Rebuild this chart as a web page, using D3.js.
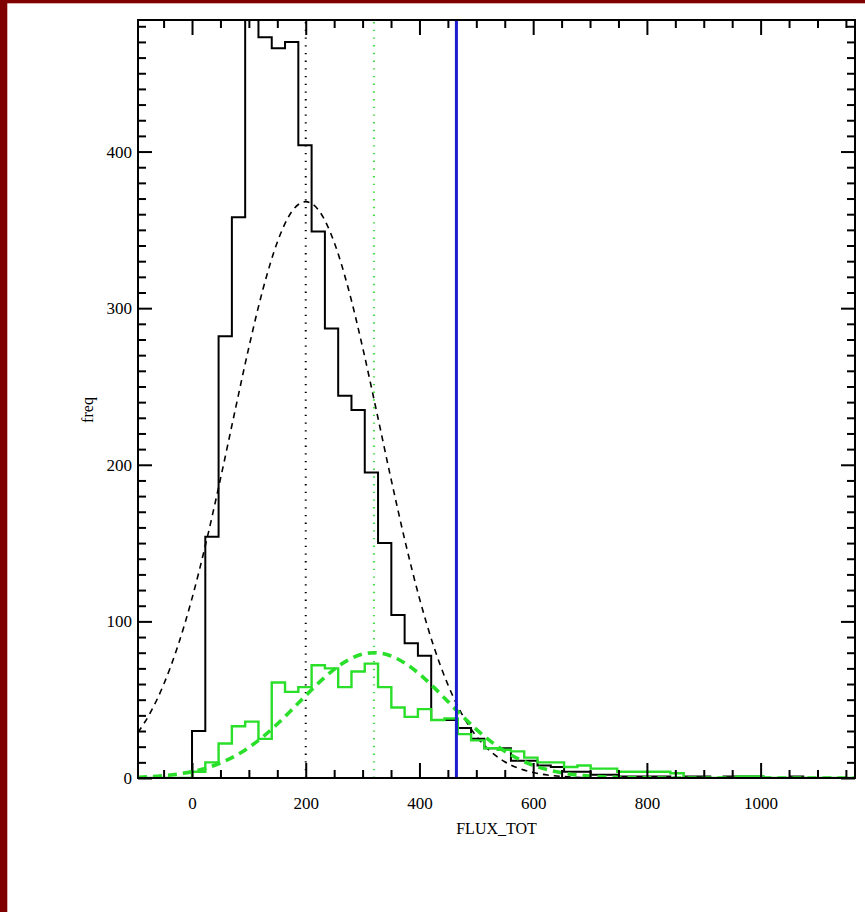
<!DOCTYPE html>
<html><head><meta charset="utf-8">
<script src="https://cdn.jsdelivr.net/npm/d3@7"></script>
<style>html,body{margin:0;padding:0;background:#fff;} svg{display:block}</style>
</head><body>
<svg id="chart" width="865" height="912"></svg>
<script>
// ---- data ----
const binStart = -93.48;      // left edge of the first histogram bin (FLUX_TOT units)
const binWidth = 23.37;
const allCounts = [0,0,0,0,
  30,154,282,358,484,473,466,470,404,349,287,244,235,195,150,104,86,78,37,37,
  32,25,19,19,11,11,8,7,4,4,2,2,1,1,1,1,0,1,1,0,1,1,1,0,0,1,0,0,0,0];
const selCounts = [0,0,0,0,
  4,10,22,33,36,25,61,55,58,72,70,58,68,73,58,45,39,44,37,38,
  28,24,19,18,17,13,10,10,7,8,6,6,4,4,4,4,3,0,0,0,0,1,1,0,0,0,0,0,0,0];
const allFitX = [-95,-75,-50,-25,0,25,50,75,100,125,150,175,200,225,250,275,300,325,350,375,400,425,450,475,500,525,550,575,600,625,650,675,700,750,850,1000,1166];
const allFitY = [29.1,40.6,59.6,84.2,114.7,150.8,191.0,233.4,275.0,312.4,342.1,361.4,368,361.4,342.1,312.4,275.0,233.4,191.0,150.8,114.7,84.2,59.6,40.6,26.7,17.0,10.4,6.1,3.5,1.9,1.0,0.5,0.2,0,0,0,0];
const selFitX = [-95,-75,-50,-25,0,25,50,75,100,125,150,175,200,225,250,275,300,320,350,375,400,425,450,475,500,525,550,575,600,625,650,675,700,750,800,900,1166];
const selFitY = [0.5,0.8,1.5,2.5,4.1,6.3,9.6,13.9,19.5,26.4,34.5,43.4,52.6,61.5,69.4,75.4,79.1,80,77.9,73.2,66.4,58.0,48.9,39.7,31.1,23.5,17.1,12.0,8.1,5.3,3.4,2.0,1.2,0.4,0.1,0,0];
const allMean = 200;
const selMean = 320;
const cutValue = 465;
const xDomain = [-95, 1166];
const yDomain = [0, 484];
const xMajorTicks = [0,200,400,600,800,1000];
const xMinorTicks = [-50,50,100,150,250,300,350,450,500,550,650,700,750,850,900,950,1050,1100,1150];
const yMajorTicks = [0,100,200,300,400];
const xTitle = "FLUX_TOT";
const yTitle = "freq";

// ---- layout ----
const W = 865, H = 912;
const L = 138, R = 855, T = 20, B = 778;
const svg = d3.select("#chart");
const FONT = "'Liberation Serif','DejaVu Serif',serif";
const GREEN = "#2adf2a";

svg.append("rect").attr("x",0).attr("y",0).attr("width",W).attr("height",H).attr("fill","#fff");
svg.append("rect").attr("x",0).attr("y",0).attr("width",W).attr("height",3.3).attr("fill","#800000");
svg.append("rect").attr("x",0).attr("y",0).attr("width",7.3).attr("height",H).attr("fill","#800000");

const x = d3.scaleLinear().domain(xDomain).range([L, R]);
const y = d3.scaleLinear().domain(yDomain).range([B, T]);

svg.append("clipPath").attr("id","plotclip").append("rect")
  .attr("x",L).attr("y",T).attr("width",R-L).attr("height",B-T);
const plot = svg.append("g").attr("clip-path","url(#plotclip)");

function stepPts(counts){
  const pts = [[binStart, 0]];
  counts.forEach((c,i)=>pts.push([binStart + i*binWidth, c]));
  pts.push([binStart + counts.length*binWidth, counts[counts.length-1]]);
  return pts;
}
const stepLine = d3.line().x(d=>x(d[0])).y(d=>y(d[1])).curve(d3.curveStepAfter);
const smoothLine = d3.line().x(d=>x(d[0])).y(d=>y(d[1])).curve(d3.curveMonotoneX);

// black histogram
plot.append("path").attr("d", stepLine(stepPts(allCounts)))
  .attr("fill","none").attr("stroke","#000").attr("stroke-width",2);
// black dashed fit
plot.append("path").attr("d", smoothLine(d3.zip(allFitX, allFitY)))
  .attr("fill","none").attr("stroke","#000").attr("stroke-width",1.6).attr("stroke-dasharray","6,5");
// black dotted mean
plot.append("line").attr("x1",x(allMean)).attr("x2",x(allMean)).attr("y1",y(yDomain[0])).attr("y2",y(yDomain[1]))
  .attr("stroke","#000").attr("stroke-width",2).attr("stroke-dasharray","1.3,6.4");
// green histogram
plot.append("path").attr("d", stepLine(stepPts(selCounts)))
  .attr("fill","none").attr("stroke",GREEN).attr("stroke-width",2.4);
// green dashed fit
plot.append("path").attr("d", smoothLine(d3.zip(selFitX, selFitY)))
  .attr("fill","none").attr("stroke",GREEN).attr("stroke-width",3.6).attr("stroke-dasharray","9,6");
// green dotted mean
plot.append("line").attr("x1",x(selMean)).attr("x2",x(selMean)).attr("y1",y(yDomain[0])).attr("y2",y(yDomain[1]))
  .attr("stroke","#4fd84f").attr("stroke-width",2.2).attr("stroke-dasharray","1.4,6.3");
// blue cut line
plot.append("line").attr("x1",x(cutValue)).attr("x2",x(cutValue)).attr("y1",y(yDomain[0])).attr("y2",y(yDomain[1]))
  .attr("stroke","#1c1cd0").attr("stroke-width",3);

// ---- axes ----
function styleAxis(g){
  g.select(".domain").remove();
  g.selectAll(".tick line").attr("stroke","#000").attr("stroke-width",2);
  g.selectAll(".tick text").attr("fill","#000");
  g.attr("font-family", FONT).attr("font-size", 17);
}
const yMinorTicks = d3.range(yDomain[0], yDomain[1]+0.001, 10).filter(v=>v%100!==0);

svg.append("g").attr("transform",`translate(0,${B})`)
  .call(d3.axisBottom(x).tickValues(xMajorTicks).tickSize(-15).tickPadding(19).tickFormat(d3.format("d"))).call(styleAxis);
svg.append("g").attr("transform",`translate(0,${B})`)
  .call(d3.axisBottom(x).tickValues(xMinorTicks).tickSize(-8).tickFormat("")).call(styleAxis);
svg.append("g").attr("transform",`translate(0,${T})`)
  .call(d3.axisTop(x).tickValues(xMajorTicks).tickSize(-15).tickFormat("")).call(styleAxis);
svg.append("g").attr("transform",`translate(0,${T})`)
  .call(d3.axisTop(x).tickValues(xMinorTicks).tickSize(-8).tickFormat("")).call(styleAxis);

svg.append("g").attr("transform",`translate(${L},0)`)
  .call(d3.axisLeft(y).tickValues(yMajorTicks).tickSize(-14).tickPadding(6).tickFormat(d3.format("d"))).call(styleAxis);
svg.append("g").attr("transform",`translate(${L},0)`)
  .call(d3.axisLeft(y).tickValues(yMinorTicks).tickSize(-8).tickFormat("")).call(styleAxis);
svg.append("g").attr("transform",`translate(${R},0)`)
  .call(d3.axisRight(y).tickValues(yMajorTicks).tickSize(-14).tickFormat("")).call(styleAxis);
svg.append("g").attr("transform",`translate(${R},0)`)
  .call(d3.axisRight(y).tickValues(yMinorTicks).tickSize(-8).tickFormat("")).call(styleAxis);

// frame
svg.append("rect").attr("x",L).attr("y",T).attr("width",R-L).attr("height",B-T)
  .attr("fill","none").attr("stroke","#000").attr("stroke-width",2);

// titles
svg.append("text").attr("x",(L+R)/2).attr("y",834).attr("text-anchor","middle")
  .attr("font-family",FONT).attr("font-size",16).attr("fill","#000").text(xTitle);
svg.append("text").attr("transform","translate(93,410) rotate(-90)").attr("text-anchor","middle")
  .attr("font-family",FONT).attr("font-size",16).attr("fill","#000").text(yTitle);
</script>
</body></html>
